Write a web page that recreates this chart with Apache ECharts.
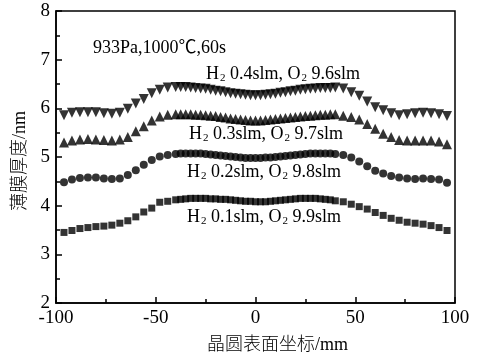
<!DOCTYPE html>
<html>
<head>
<meta charset="utf-8">
<script src="https://cdn.jsdelivr.net/npm/echarts@6/dist/echarts.min.js"></script>
<style>html,body{margin:0;padding:0;background:#fff}#c{width:478px;height:360px}</style>
</head>
<body>
<div id="c"></div>
<script>
// positions along wafer surface (mm)
var xPos = [-96,-92,-88,-84,-80,-76,-72,-68,-64,-60,-56,-52,-48,-44,-40,
  -37.5,-35,-32.5,-30,-27.5,-25,-22.5,-20,-17.5,-15,-12.5,-10,-7.5,-5,-2.5,0,2.5,5,7.5,10,12.5,15,17.5,20,22.5,25,27.5,30,32.5,35,37.5,
  40,44,48,52,56,60,64,68,72,76,80,84,88,92,96];

var h01 = [3.45,3.49,3.53,3.55,3.57,3.58,3.60,3.64,3.69,3.77,3.87,3.95,4.07,4.09,4.12,
  4.13,4.14,4.15,4.15,4.15,4.15,4.14,4.14,4.13,4.13,4.12,4.11,4.10,4.09,4.09,4.08,4.08,4.08,4.09,4.10,4.11,4.12,4.13,4.14,4.15,4.15,4.15,4.15,4.14,4.13,4.12,
  4.10,4.08,4.03,3.98,3.93,3.86,3.80,3.74,3.70,3.66,3.64,3.62,3.59,3.55,3.49];
var h02 = [4.48,4.54,4.57,4.58,4.58,4.56,4.55,4.56,4.63,4.73,4.84,4.94,5.01,5.04,5.06,
  5.07,5.07,5.07,5.07,5.07,5.06,5.05,5.04,5.03,5.02,5.01,5.00,4.99,4.98,4.98,4.98,4.98,4.99,4.99,5.00,5.01,5.02,5.03,5.04,5.05,5.06,5.07,5.07,5.07,5.07,5.07,
  5.06,5.04,4.99,4.91,4.81,4.72,4.66,4.61,4.58,4.56,4.55,4.56,4.55,4.54,4.47];
var h03 = [5.30,5.34,5.36,5.37,5.36,5.35,5.34,5.36,5.41,5.53,5.63,5.75,5.83,5.87,5.88,
  5.88,5.88,5.88,5.87,5.87,5.86,5.85,5.84,5.82,5.81,5.79,5.78,5.77,5.76,5.75,5.75,5.75,5.76,5.77,5.78,5.79,5.80,5.81,5.82,5.83,5.84,5.85,5.86,5.87,5.87,5.88,
  5.88,5.85,5.82,5.77,5.68,5.58,5.48,5.41,5.35,5.34,5.34,5.34,5.34,5.32,5.26];
var h04 = [5.86,5.91,5.92,5.92,5.92,5.90,5.89,5.91,5.99,6.10,6.19,6.31,6.38,6.43,6.44,
  6.44,6.44,6.43,6.42,6.41,6.40,6.38,6.36,6.35,6.33,6.31,6.30,6.29,6.28,6.27,6.27,6.27,6.28,6.29,6.30,6.32,6.33,6.35,6.36,6.38,6.39,6.40,6.41,6.42,6.42,6.42,
  6.43,6.41,6.33,6.26,6.14,6.02,5.96,5.90,5.86,5.88,5.90,5.91,5.90,5.88,5.84];

var seriesNames = ['H2 0.1slm, O2 9.9slm','H2 0.2slm, O2 9.8slm','H2 0.3slm, O2 9.7slm','H2 0.4slm, O2 9.6slm'];
var labelParts = [['0.1slm, O','9.9slm'],['0.2slm, O','9.8slm'],['0.3slm, O','9.7slm'],['0.4slm, O','9.6slm']];
var condition = '933Pa,1000℃,60s';
var xName = '晶圆表面坐标/mm';
var yName = '薄膜厚度/nm';

function pairs(v){ return xPos.map(function(x,i){ return [x, v[i]]; }); }

var serif = '"Liberation Serif","Times New Roman","Noto Sans CJK SC",serif';
var chart = echarts.init(document.getElementById('c'), null, {renderer:'canvas'});

var rich = {
  n: {fontFamily: serif, fontSize: 18, color: '#000'},
  s: {fontFamily: serif, fontSize: 11, color: '#000', padding: [9,0,0,1]}
};
function lab(parts){ return '{n|H}{s|2}{n| ' + parts[0] + '}{s|2}{n| ' + parts[1] + '}'; }
var labPos = [[187,217],[187,172],[189,134],[206,74]];

var graphics = [{type:'text', x:93, y:48, style:{text:condition, fill:'#000', font:'18px ' + serif, verticalAlign:'middle'}}];
labelParts.forEach(function(p,i){
  graphics.push({type:'text', x:labPos[i][0], y:labPos[i][1], style:{text:lab(p), rich:rich, verticalAlign:'middle'}});
});

chart.setOption({
  animation:false,
  backgroundColor:'#fff',
  grid:{left:56, right:23, top:11, bottom:57, show:true, borderColor:'#000', borderWidth:1.5, backgroundColor:'transparent'},
  xAxis:{
    type:'value', min:-100, max:100, interval:50,
    axisLine:{show:true, onZero:false, lineStyle:{color:'#000', width:1.5}},
    axisTick:{show:true, inside:true, length:6, lineStyle:{color:'#000', width:1.5}},
    minorTick:{show:true, splitNumber:2, length:4, lineStyle:{color:'#000', width:1.5}},
    splitLine:{show:false},
    axisLabel:{color:'#000', fontFamily:serif, fontSize:19, margin:6},
    name:xName, nameLocation:'middle', nameGap:33,
    nameTextStyle:{color:'#000', fontFamily:serif, fontSize:18, fontWeight:300, padding:[0,0,0,44]}
  },
  yAxis:{
    type:'value', min:2, max:8, interval:1,
    axisLine:{show:true, onZero:false, lineStyle:{color:'#000', width:1.5}},
    axisTick:{show:true, inside:true, length:6, lineStyle:{color:'#000', width:1.5}},
    minorTick:{show:true, splitNumber:2, length:4, lineStyle:{color:'#000', width:1.5}},
    splitLine:{show:false},
    axisLabel:{color:'#000', fontFamily:serif, fontSize:19, margin:6},
    name:yName, nameLocation:'middle', nameGap:25, nameRotate:90,
    nameTextStyle:{color:'#000', fontFamily:serif, fontSize:18, fontWeight:300, padding:[0,8,0,0]}
  },
  graphic: graphics,
  series:[
    {name:seriesNames[0], type:'scatter', data:pairs(h01), symbol:'rect', symbolSize:7, itemStyle:{color:'#000'}},
    {name:seriesNames[1], type:'scatter', data:pairs(h02), symbol:'circle', symbolSize:8, itemStyle:{color:'#000'}},
    {name:seriesNames[2], type:'scatter', data:pairs(h03), symbol:'triangle', symbolSize:10, itemStyle:{color:'#000'}},
    {name:seriesNames[3], type:'scatter', data:pairs(h04), symbol:'triangle', symbolRotate:180, symbolSize:10, itemStyle:{color:'#000'}}
  ]
});
</script>
</body>
</html>
